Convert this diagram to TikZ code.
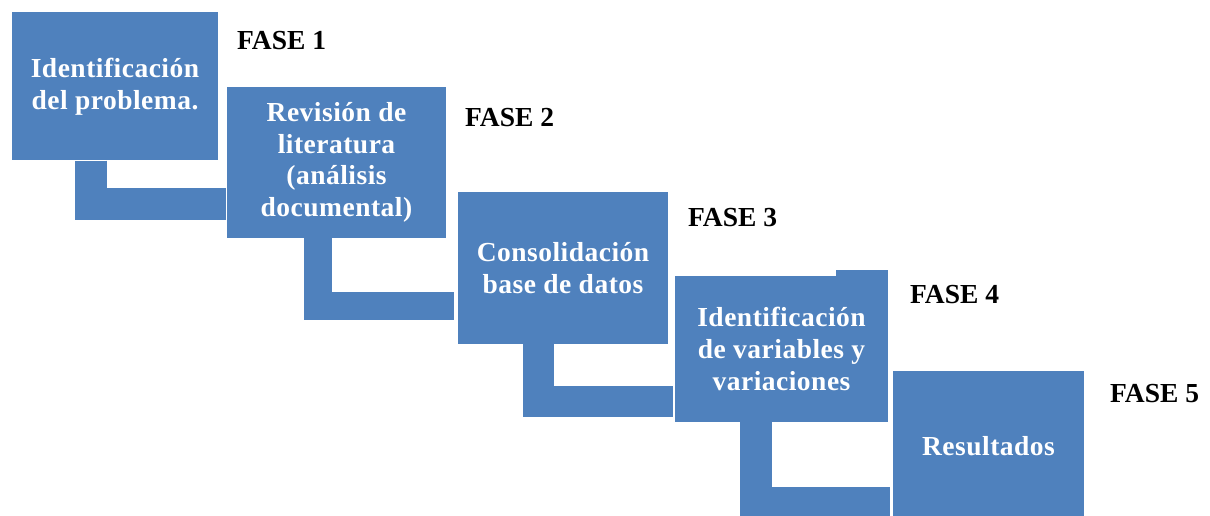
\documentclass[tikz,border=0pt]{standalone}
\usepackage{fontspec}
\setmainfont{Liberation Serif}
\usetikzlibrary{calc}
\definecolor{boxblue}{RGB}{79,129,189}
\tikzset{
  phase/.style={fill=boxblue, text=white, inner sep=0pt, align=center,
    font=\bfseries\fontsize{27.5}{31.7}\selectfont\addfontfeature{LetterSpace=1.8}},
  conn/.style={draw=boxblue, line join=miter, line cap=butt},
  fase/.style={anchor=base west, inner sep=0pt, text=black,
    font=\bfseries\fontsize{27.5}{32}\selectfont}
}
\begin{document}
\begin{tikzpicture}[x=1pt,y=-1pt]
\useasboundingbox (0,0) rectangle (1210,516);
\clip (0,0) rectangle (1210,516);
\fill[white] (0,0) rectangle (1210,516);

% boxes
\node[phase, minimum width=206pt, minimum height=148pt] (b1) at (115,86.5)
  {Identificación\\del problema.};
\node[phase, minimum width=219pt, minimum height=151pt] (b2) at (336.5,162.5)
  {Revisión de\\literatura\\(análisis\\documental)};
\node[phase, minimum width=210pt, minimum height=152pt] (b3) at (563,268)
  {Consolidación\\base de datos};
\fill[boxblue] (836,270) rectangle (888,277);
\node[phase, minimum width=213pt, minimum height=146pt] (b4) at (781.5,349)
  {Identificación\\de variables y\\variaciones};
\node[phase, minimum width=191pt, minimum height=151pt] (b5) at (988.5,446.5)
  {Resultados};

% connectors
\draw[conn, line width=32pt, shorten >=1pt] ([xshift=79pt]b1.south west) |- ([yshift=-41.5pt]b2.west);
\draw[conn, line width=28pt, shorten >=4pt] ([xshift=91.5pt]b2.south west) |- ([yshift=-38pt]b3.west);
\draw[conn, line width=31pt, shorten >=2pt] ([xshift=81pt]b3.south west) |- ([yshift=-52.5pt]b4.west);
\draw[conn, line width=32pt, shorten >=3pt] ([xshift=81pt]b4.south west) |- ([yshift=-56.5pt]b5.west);

% labels
\node[fase] (f1) at (237,50) {FASE 1};
\node[fase] (f2) at (465,126.5) {FASE 2};
\node[fase] (f3) at (688,226.5) {FASE 3};
\node[fase] (f4) at (910,303) {FASE 4};
\node[fase] (f5) at (1110,402.5) {FASE 5};
\end{tikzpicture}
\end{document}
